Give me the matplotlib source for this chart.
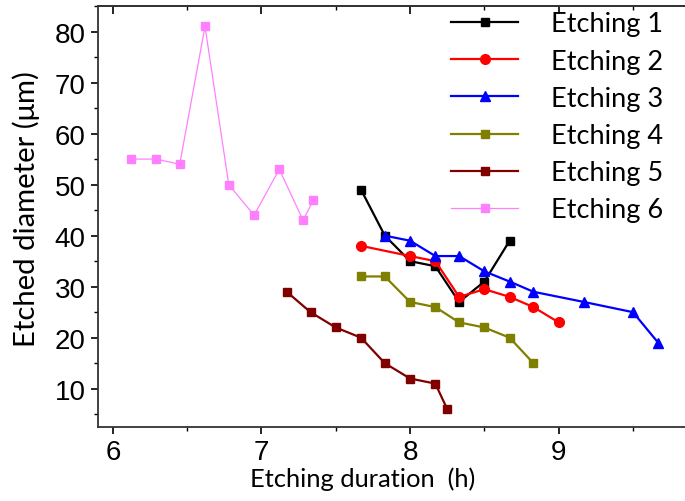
import matplotlib
matplotlib.use("Agg")
import matplotlib.pyplot as plt
from matplotlib.ticker import MultipleLocator

# Data (Etching duration in h, etched diameter in um)
x1 = [7.67, 7.83, 8.0, 8.17, 8.33, 8.5, 8.67]
y1 = [49, 40, 35, 34, 27, 31, 39]
x2 = [7.67, 8.0, 8.17, 8.33, 8.5, 8.67, 8.83, 9.0]
y2 = [38, 36, 35, 28, 29.5, 28, 26, 23]
x3 = [7.83, 8.0, 8.17, 8.33, 8.5, 8.67, 8.83, 9.17, 9.5, 9.67]
y3 = [40, 39, 36, 36, 33, 31, 29, 27, 25, 19]
x4 = [7.67, 7.83, 8.0, 8.17, 8.33, 8.5, 8.67, 8.83]
y4 = [32, 32, 27, 26, 23, 22, 20, 15]
x5 = [7.17, 7.33, 7.5, 7.67, 7.83, 8.0, 8.17, 8.25]
y5 = [29, 25, 22, 20, 15, 12, 11, 6]
x6 = [6.12, 6.29, 6.45, 6.62, 6.78, 6.95, 7.12, 7.28, 7.35]
y6 = [55, 55, 54, 81, 50, 44, 53, 43, 47]
labels = ["Etching 1", "Etching 2", "Etching 3", "Etching 4", "Etching 5", "Etching 6"]

fig = plt.figure(figsize=(6.85, 5.02), dpi=100)
ax = fig.add_axes([98/685, 1 - 428/502, 1 - 98/685, (428 - 7)/502])

ax.plot(x1, y1, color="black", marker="s", ms=6, lw=1.6, label=labels[0])
ax.plot(x2, y2, color="#ff0000", marker="o", ms=7, lw=1.6, label=labels[1])
ax.plot(x3, y3, color="#0000ff", marker="^", ms=7.5, lw=1.6, label=labels[2])
ax.plot(x4, y4, color="#808000", marker="s", ms=6, lw=1.6, label=labels[3])
ax.plot(x5, y5, color="#800000", marker="s", ms=6, lw=1.6, label=labels[4])
ax.plot(x6, y6, color="#ff80ff", marker="s", ms=6, lw=0.9, label=labels[5])

ax.set_xlim(5.9, 9.85)
ax.set_ylim(2.5, 85)
ax.xaxis.set_major_locator(MultipleLocator(1))
ax.xaxis.set_minor_locator(MultipleLocator(0.5))
ax.yaxis.set_minor_locator(MultipleLocator(5))
ax.set_yticks([10, 20, 30, 40, 50, 60, 70, 80])

for s in ["left", "bottom", "top"]:
    ax.spines[s].set_linewidth(1.3)
    ax.spines[s].set_color("#333333")
ax.spines["right"].set_visible(False)

ax.tick_params(which="major", direction="out", length=5, width=1.2,
               labelsize=20, top=False, right=False, pad=4)
ax.tick_params(which="minor", direction="out", length=3, width=1.0,
               top=False, right=False)
for lab in ax.get_xticklabels() + ax.get_yticklabels():
    lab.set_family("Liberation Sans")

sec = ax.secondary_xaxis("top")
sec.xaxis.set_major_locator(MultipleLocator(1))
sec.xaxis.set_minor_locator(MultipleLocator(0.5))
sec.tick_params(which="major", direction="in", length=6, width=1.2, labeltop=False)
sec.tick_params(which="minor", direction="in", length=3, width=1.0)
sec.spines["top"].set_linewidth(1.3)
sec.spines["top"].set_color("#333333")

ax.set_ylabel("Etched diameter (\u03bcm)", fontsize=17.9, family="Lato", labelpad=2)
ax.yaxis.set_label_coords(-0.099, 0.52)
ax.set_xlabel("Etching duration  (h)", fontsize=18.3, family="Lato", labelpad=1)
ax.xaxis.label.set_x(0.45)

# fit label sizes to the reference's text lengths (pixels)
fig.canvas.draw()
r = fig.canvas.get_renderer()
yl = ax.yaxis.label
h = yl.get_window_extent(r).height
yl.set_fontsize(17.9 * 276.0 / h)
xl = ax.xaxis.label
w = xl.get_window_extent(r).width
xl.set_fontsize(18.3 * 225.0 / w)

leg = ax.legend(loc="upper right", frameon=False, prop={"family": "Lato", "size": 19.5},
                handlelength=2.47, handletextpad=1.2, labelspacing=0.45,
                borderaxespad=0.0, borderpad=0.2, bbox_to_anchor=(0.9717, 1.0))

fig.savefig("out.png", dpi=100)
